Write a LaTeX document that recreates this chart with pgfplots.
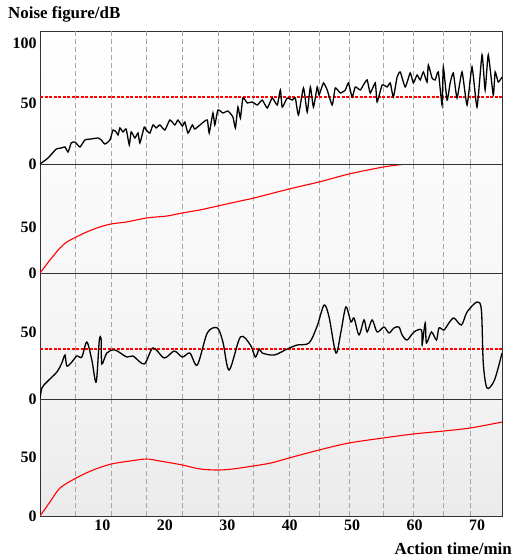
\documentclass[border=0pt]{standalone}
\usepackage{fontspec}
\setmainfont{Liberation Serif}
\usepackage{pgfplots}
\pgfplotsset{compat=1.18}
\pgfplotsset{
  panel/.style={
    scale only axis, width=462bp, xmin=0, xmax=74,
    axis line style={draw=black!80, line width=0.9bp},
    xtick={10,20,30,40,50,60,70}, xticklabels={},
    major tick length=0pt,
    extra x ticks={5.7,11.4,17.1,22.8,28.5,34.1,40.0,44.7,49.5,55.0,59.8,64.6,68.9},
    extra x tick labels={},
    extra x tick style={grid=major},
    major grid style={black!35, line width=0.7bp, dash pattern=on 4.5bp off 3.5bp},
    ticklabel style={font=\fontsize{16}{16}\selectfont\bfseries},
    /pgf/number format/assume math mode=true,
  },
}
\begin{document}
\begin{tikzpicture}
% panel 4 (bottom)
\begin{axis}[panel, at={(0,0)}, anchor=south west, height=117bp,
  ymin=0, ymax=100, ytick={0,50},
  xticklabels={10,20,30,40,50,60,70},
  axis background/.style={top color=black!5, bottom color=black!8}]
\addplot[color=red, line width=1.1bp, smooth, mark=none] coordinates {(0,0) (1.6,12.0) (3.2,23.9) (5.8,32.5) (8.5,39.3) (11.4,44.4) (14.4,47.0) (17.1,48.7) (19.2,47.0) (22.8,43.6) (25.6,40.2) (28.5,39.3) (30.9,40.2) (34.1,42.7) (37.0,45.3) (39.9,49.6) (44.7,56.4) (49.5,62.4) (55.0,66.7) (59.8,70.1) (64.6,72.6) (68.9,75.2) (74.0,80.3)};
\end{axis}
% panel 3
\begin{axis}[panel, at={(0,117bp)}, anchor=south west, height=126bp,
  ymin=0, ymax=94, ytick={0,50},
  axis background/.style={top color=black!3, bottom color=black!5}]
\addplot[color=red, line width=1.4bp, dash pattern=on 3bp off 1.5bp, mark=none] coordinates {(0,37.3) (74,37.3)};
\addplot[color=black, line width=1.3bp, smooth, tension=0.5, mark=none] coordinates {(0,0) (0.3,8.2) (1.1,12.7) (2.7,20.1) (3.5,26.9) (4.0,32.8) (4.3,24.6) (5.1,27.6) (5.9,32.1) (6.7,31.3) (7.5,42.5) (8.3,29.1) (9.0,12.7) (9.5,44.0) (9.8,44.0) (9.9,26.1) (10.7,34.3) (12.0,36.6) (13.9,31.3) (14.9,32.1) (16.7,26.1) (18.1,38.1) (19.9,30.6) (21.5,35.8) (22.8,31.3) (24.0,34.3) (25.2,25.4) (26.8,49.3) (28.4,53.0) (29.3,42.5) (30.3,21.6) (32.1,46.3) (33.7,40.3) (34.5,31.3) (35.1,37.3) (35.6,34.3) (37.5,32.8) (39.6,37.3) (41.2,40.3) (43.1,41.8) (44.4,54.5) (45.5,70.1) (46.3,61.2) (47.4,34.3) (48.2,50.0) (49.0,68.7) (49.8,57.5) (50.3,60.4) (51.1,47.8) (51.9,59.0) (52.4,50.0) (53.2,59.0) (54.0,50.0) (55.1,53.7) (55.9,49.3) (56.7,53.0) (57.5,53.7) (58.0,47.8) (58.8,44.0) (59.9,50.0) (61.1,51.5) (61.2,40.3) (61.7,56.7) (61.9,41.8) (62.7,50.0) (63.5,44.0) (63.9,53.0) (64.7,51.5) (65.5,56.7) (66.3,60.4) (67.5,55.2) (68.4,64.9) (70.0,72.4) (70.7,66.4) (71.0,26.9) (71.6,8.2) (72.8,14.2) (74.0,34.3)};
\end{axis}
% panel 2
\begin{axis}[panel, at={(0,243bp)}, anchor=south west, height=109bp,
  ymin=0, ymax=120, ytick={0,50},
  axis background/.style={top color=black!2, bottom color=black!3}]
\addplot[color=red, line width=1.1bp, smooth, mark=none] coordinates {(0,0) (1.6,14.3) (3.2,27.5) (4.3,34.1) (5.8,39.6) (7.5,45.2) (9.6,50.7) (11.4,54.0) (13.9,56.2) (17.1,60.6) (20.4,62.8) (22.8,66.1) (25.6,69.4) (28.5,73.8) (32.1,79.3) (34.3,82.6) (39.9,92.5) (44.7,100.2) (49.5,109.0) (55.0,116.7) (58.7,120)};
\end{axis}
% panel 1 (top)
\begin{axis}[panel, at={(0,352bp)}, anchor=south west, height=133bp,
  ymin=0, ymax=110, ytick={0,50,100},
  axis background/.style={top color=white, bottom color=black!2}]
\addplot[color=red, line width=1.4bp, dash pattern=on 3bp off 1.5bp, mark=none] coordinates {(0,55.4) (74,55.4)};
\addplot[color=black, line width=1.3bp, smooth, tension=0.3, mark=none] coordinates {(0,0) (1.3,5.0) (2.6,12.4) (3.4,13.2) (4.0,14.1) (4.5,9.9) (5.0,17.4) (5.6,18.2) (6.4,14.1) (7.2,19.9) (8.2,20.7) (9.3,21.5) (9.8,19.9) (10.4,16.5) (11.2,19.9) (11.7,28.1) (12.2,26.5) (12.5,24.0) (12.8,29.8) (13.3,26.5) (13.8,28.9) (14.3,15.7) (14.6,26.5) (15.2,21.5) (15.7,25.6) (16.0,17.4) (16.7,30.6) (17.0,28.1) (17.6,25.6) (18.1,32.3) (18.6,29.8) (19.2,32.3) (20.0,28.1) (20.8,36.4) (21.6,32.3) (22.1,36.4) (22.8,31.4) (23.2,34.7) (23.7,25.6) (24.4,32.3) (24.8,28.9) (26.0,33.9) (26.8,36.4) (27.1,25.6) (27.7,42.2) (28.0,32.3) (28.5,44.7) (29.3,42.2) (30.1,43.8) (30.9,38.9) (31.3,29.8) (31.7,47.1) (32.1,38.0) (32.5,54.6) (33.2,50.5) (34.0,51.3) (34.8,48.8) (35.6,52.9) (36.4,46.3) (37.2,54.6) (38.0,48.8) (38.5,61.2) (38.8,47.1) (39.6,54.6) (40.4,52.9) (40.9,54.6) (41.4,40.5) (42.2,62.9) (42.8,43.0) (43.3,63.7) (43.8,47.1) (44.4,63.7) (44.7,57.1) (45.4,67.0) (46.0,61.2) (46.8,48.8) (47.3,62.9) (48.1,58.7) (48.9,61.2) (49.4,67.0) (50.0,55.4) (50.5,63.7) (51.3,61.2) (51.8,65.3) (52.4,69.5) (52.9,58.7) (53.7,67.0) (54.0,51.3) (54.8,65.3) (55.6,63.7) (56.1,67.0) (56.6,55.4) (57.2,71.9) (57.7,76.1) (58.5,63.7) (59.3,75.3) (59.8,67.0) (60.4,73.6) (60.9,69.5) (61.4,76.1) (62.0,67.8) (62.2,81.9) (62.8,71.1) (63.3,69.5) (63.8,76.1) (64.4,48.8) (64.6,80.2) (65.2,52.9) (65.7,67.0) (66.2,75.3) (66.8,54.6) (67.6,76.1) (68.4,48.8) (69.2,80.2) (70.0,47.1) (70.8,90.2) (71.3,61.2) (71.8,90.2) (72.6,57.1) (72.9,76.1) (73.4,67.8) (74.0,71.9)};
\end{axis}
\node[anchor=base west, inner sep=0pt, font=\fontsize{17}{17}\selectfont\bfseries] at (-32bp,497bp) {Noise figure/dB};
\node[anchor=base east, inner sep=0pt, font=\fontsize{17}{17}\selectfont\bfseries] at (472bp,-38bp) {Action time/min};
\pgfresetboundingbox
\path[use as bounding box] (-40bp,-43bp) rectangle (474bp,516bp);
\end{tikzpicture}
\end{document}
